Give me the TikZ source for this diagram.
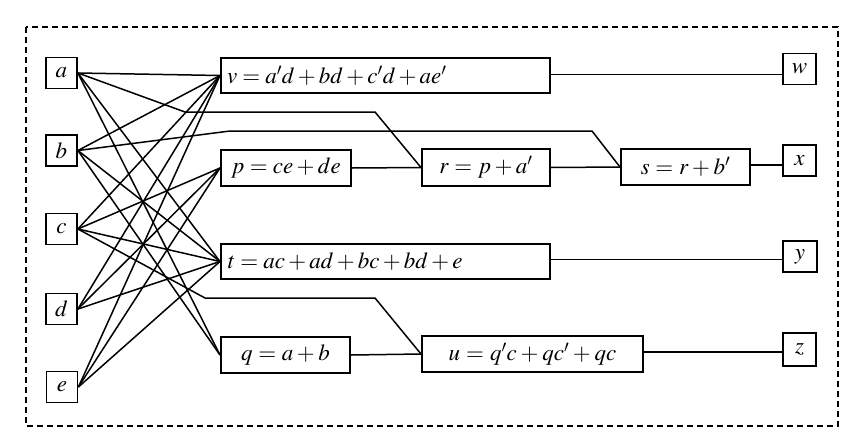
\documentclass[tikz,border=0pt]{standalone}
\usepackage{mathptmx}
\begin{document}
\begin{tikzpicture}[x=1pt,y=-1pt,
  every node/.style={font=\fontsize{23}{27}\selectfont},
  inbox/.style={draw, line width=1.8pt, minimum width=31pt, minimum height=31pt, inner sep=0pt},
  fnbox/.style={draw, line width=2pt, anchor=north west, inner xsep=6pt, inner ysep=0pt},
  wire/.style={line width=1.5pt, line join=round},
  frame/.style={line width=1.5pt, dash pattern=on 6pt off 4pt}]
\useasboundingbox (0,0) rectangle (847,434);

% dashed enclosure
\draw[frame] (26,27) rectangle (838,426);

% inputs
\node[inbox] (a) at (61.5,73)  {$a$};
\node[inbox] (b) at (61.5,150.5) {$b$};
\node[inbox] (c) at (61.5,229) {$c$};
\node[inbox] (d) at (61.5,309) {$d$};
\node[inbox] (e) at (62,387)   {$e$};

% function blocks
\node[fnbox, minimum width=329pt, minimum height=35pt, text width=317pt, align=left] (v) at (220,57) {$v = a'd + bd + c'd + ae'$};
\node[fnbox, minimum width=130pt, minimum height=36pt, text width=118pt, align=center] (p) at (220,149) {$p = ce + de$};
\node[fnbox, minimum width=128pt, minimum height=37pt, text width=116pt, align=center] (r) at (421,148) {$r = p + a'$};
\node[fnbox, minimum width=129pt, minimum height=36pt, text width=117pt, align=center] (s) at (620,148) {$s = r + b'$};
\node[fnbox, minimum width=329pt, minimum height=35pt, text width=315pt, inner xsep=7pt, align=left] (t) at (220,243) {$t = ac + ad + bc + bd + e$};
\node[fnbox, minimum width=129pt, minimum height=36pt, text width=117pt, align=center] (q) at (220,336) {$q = a + b$};
\node[fnbox, minimum width=221pt, minimum height=36pt, text width=209pt, align=center] (u) at (421,335) {$u = q'c + qc' + qc$};

% outputs
\node[inbox, minimum width=33pt] (w) at (799.5,69) {$w$};
\node[inbox, minimum width=33pt] (x) at (799.5,160.5) {$x$};
\node[inbox, minimum width=34pt] (y) at (800,256.5) {$y$};
\node[inbox, minimum width=33pt, minimum height=33pt] (z) at (799.5,349.5) {$z$};

% bend points of the routed wires
\coordinate (ar1) at (185,112);
\coordinate (ar2) at (375,112);
\coordinate (bs1) at (230,131);
\coordinate (bs2) at (592,131);
\coordinate (cu1) at (205,298);
\coordinate (cu2) at (375,298);

% input fan-out
\foreach \src in {a,b,c,d,e} \draw[wire] (\src.east) -- (v.west);
\foreach \src in {c,d,e} \draw[wire] (\src.east) -- (p.west);
\foreach \src in {a,b,c,d,e} \draw[wire] (\src.east) -- (t.west);
\foreach \src in {a,b} \draw[wire] (\src.east) -- (q.west);

\draw[wire] (a.east) -- (ar1) -- (ar2) -- (r.west);
\draw[wire] (b.east) -- (bs1) -- (bs2) -- (s.west);
\draw[wire] (c.east) -- (cu1) -- (cu2) -- (u.west);

% block to block
\draw[wire] (p.east) -- (r.west);
\draw[wire] (r.east) -- (s.west);
\draw[wire] (q.east) -- (u.west);

% to outputs, kept level with each source block
\draw[wire] ([yshift=1pt]v.east) -- ([yshift=1pt]v.east -| w.west);
\draw[wire] ([yshift=2pt]s.east) -- ([yshift=2pt]s.east -| x.west);
\draw[wire] ([yshift=2pt]t.east) -- ([yshift=2pt]t.east -| y.west);
\draw[wire] ([yshift=2pt]u.east) -- ([yshift=2pt]u.east -| z.west);
\end{tikzpicture}
\end{document}
